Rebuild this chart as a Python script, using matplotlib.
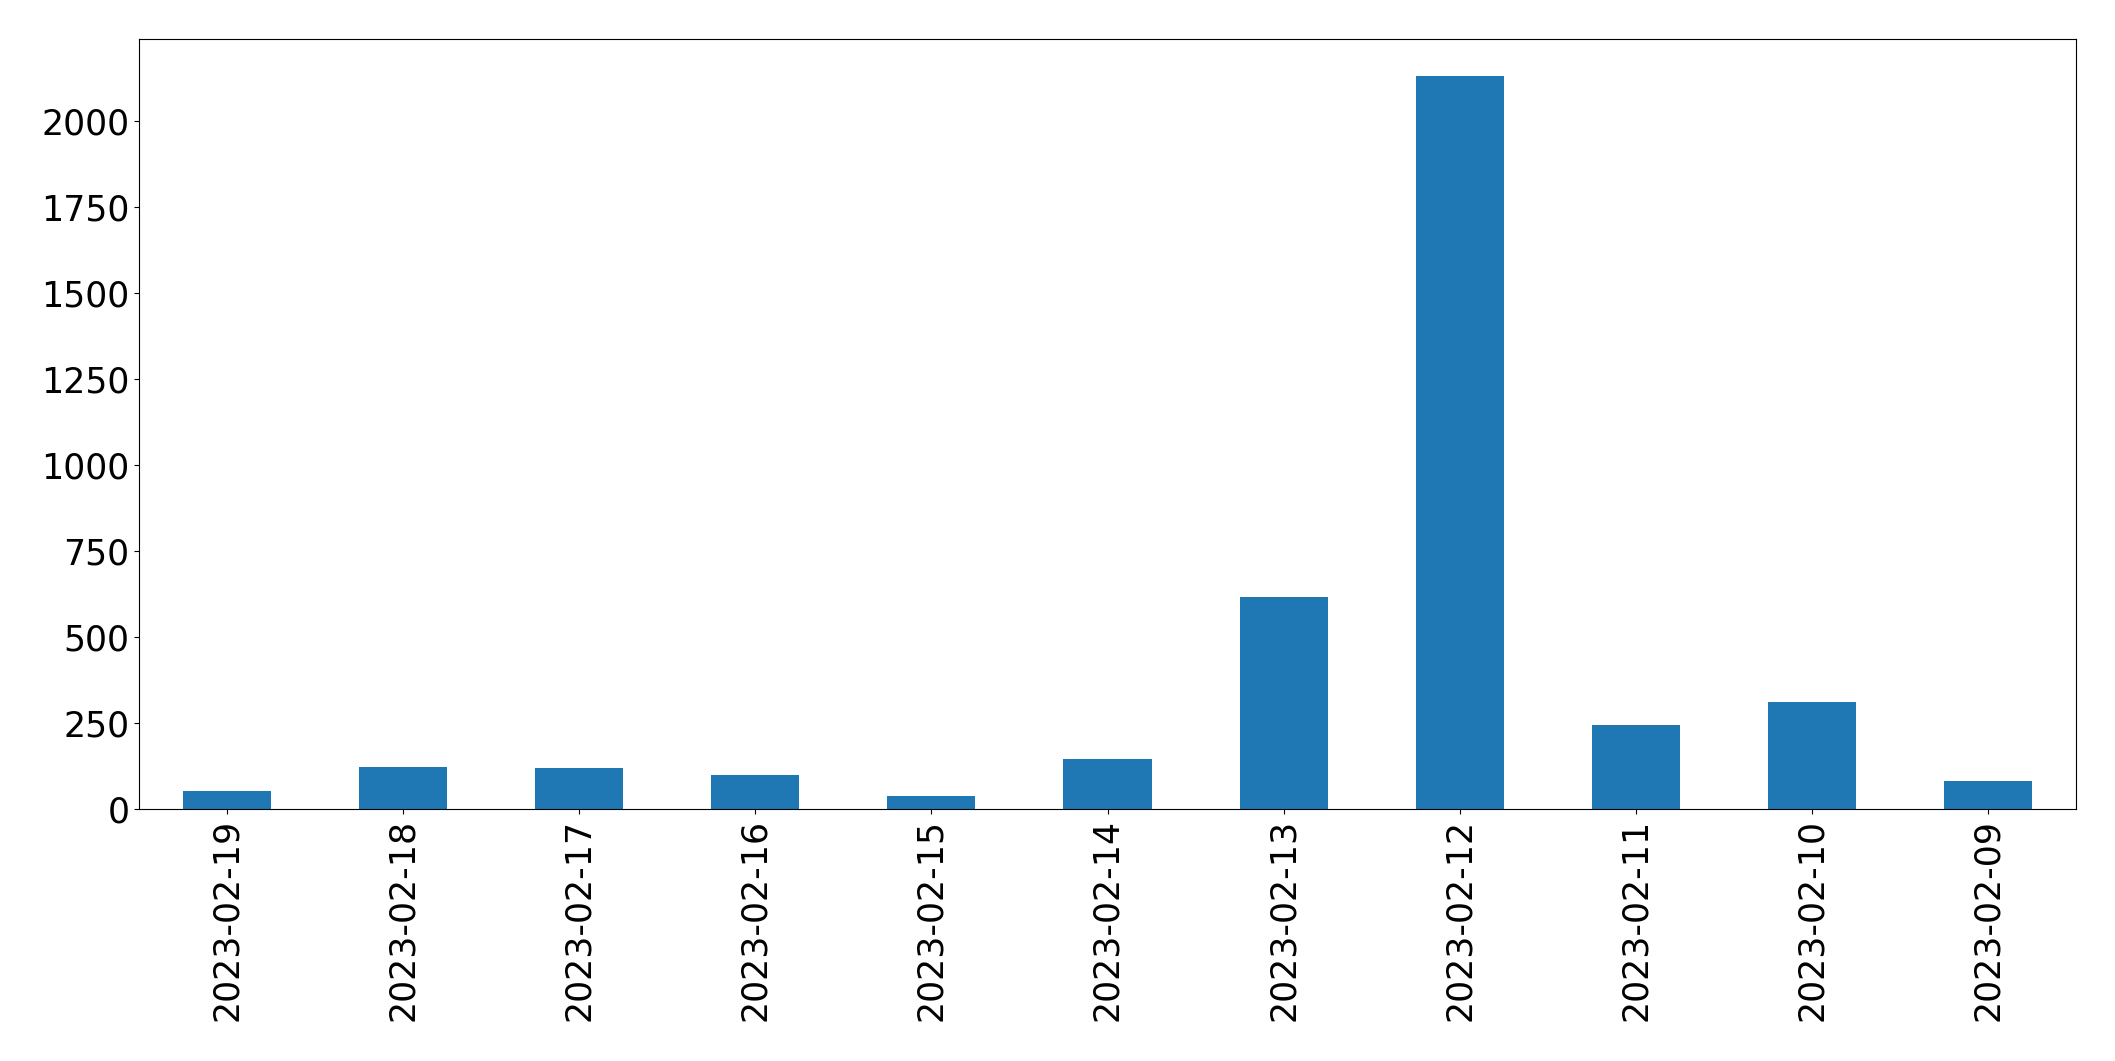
import matplotlib
matplotlib.use("Agg")
import matplotlib.pyplot as plt

dates = ["2023-02-19", "2023-02-18", "2023-02-17", "2023-02-16", "2023-02-15",
         "2023-02-14", "2023-02-13", "2023-02-12", "2023-02-11", "2023-02-10",
         "2023-02-09"]
counts = [52, 122, 119, 99, 38, 146, 616, 2132, 243, 311, 82]

fig = plt.figure(figsize=(21.15, 10.61), dpi=100)
ax = fig.add_axes([139 / 2115, 1 - 809 / 1061, (2076 - 139) / 2115, (809 - 39) / 1061])
x = list(range(len(dates)))
ax.bar(x, counts, width=0.5, color="#1f77b4")
ax.set_xlim(-0.5, len(dates) - 0.5)
ax.set_ylim(0, max(counts) * 1.05)
ax.set_xticks(x)
ax.set_xticklabels(dates, rotation=90)
ax.tick_params(axis="both", labelsize=25)
fig.savefig("out.png", dpi=100)
